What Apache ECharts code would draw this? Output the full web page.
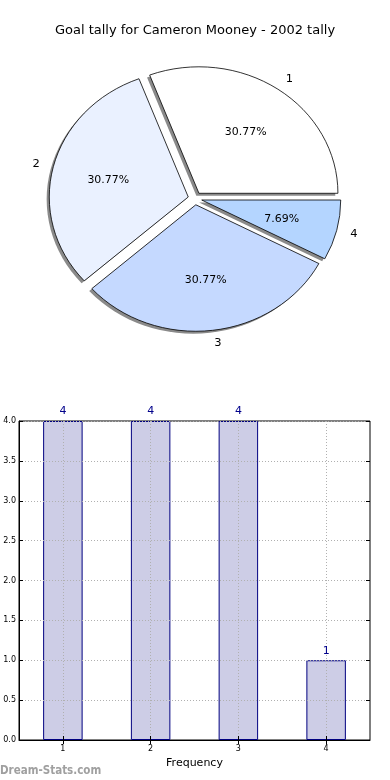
<!DOCTYPE html>
<html><head><meta charset="utf-8">
<script src="https://cdn.jsdelivr.net/npm/echarts@6/dist/echarts.min.js"></script>
<style>
html,body{margin:0;padding:0;background:#fff}
#wrap{position:relative;width:390px;height:780px}
#c{position:absolute;left:0;top:0;width:390px;height:780px}
#p{position:absolute;left:0;top:0;width:390px;height:400px;transform-origin:195px 198.5px;transform:scale(1.045,0.951)}
</style>
</head><body><div id="wrap"><div id="c"></div><div id="p"></div></div>
<script>
var titleText = 'Goal tally for Cameron Mooney - 2002 tally';
var categories = ['1', '2', '3', '4'];
var values = [4, 4, 4, 1];
var sliceColors = ['#ffffff', '#eaf1ff', '#c5d9ff', '#b4d5ff'];
var yTicks = [0, 0.5, 1, 1.5, 2, 2.5, 3, 3.5, 4];
var xName = 'Frequency';
var watermark = 'Dream-Stats.com';

var FONT = 'DejaVu Sans';
var R = 133;
var CX = 195, CY = 198.5;
function sliceData(withColor) {
  return categories.map(function (c, i) {
    var d = { name: c, value: values[i], selected: true };
    if (withColor) d.itemStyle = { color: sliceColors[i] };
    return d;
  });
}
var pieCommon = {
  type: 'pie', startAngle: 0, clockwise: false, selectedMode: 'multiple', selectedOffset: R * 0.05,
  avoidLabelOverlap: false, emphasis: { disabled: true }, silent: true
};

var pie = echarts.init(document.getElementById('p'), null, { renderer: 'svg' });
pie.setOption({
  animation: false,
  series: [
    Object.assign({}, pieCommon, {
      center: [CX - 2.5, CY + 2.5], radius: [0, R], z: 1,
      data: sliceData(false),
      itemStyle: { color: '#8a8a8a', borderWidth: 0 },
      label: { show: false }, labelLine: { show: false }
    }),
    Object.assign({}, pieCommon, {
      center: [CX, CY], radius: [0, R], z: 2,
      data: sliceData(true),
      itemStyle: { borderColor: '#000', borderWidth: 0.8 },
      label: { show: true, position: 'outside', distanceToLabelLine: 0, fontFamily: FONT, fontSize: 11, color: '#000', textBorderWidth: 0, formatter: '{b}' },
      labelLine: { show: false, length: R * 0.1, length2: 0 }
    }),
    Object.assign({}, pieCommon, {
      center: [CX, CY], radius: [0, R * 1.14], z: 3,
      data: sliceData(false),
      itemStyle: { color: 'rgba(0,0,0,0)', borderWidth: 0 },
      label: { show: true, position: 'inside', fontFamily: FONT, fontSize: 10.5, color: '#000', textBorderWidth: 0, textBorderColor: 'transparent',
        formatter: function (p) { return p.percent.toFixed(2) + '%'; } },
      labelLine: { show: false }
    })
  ]
});

var chart = echarts.init(document.getElementById('c'), null, { renderer: 'canvas' });
chart.setOption({
  animation: false,
  backgroundColor: '#ffffff',
  title: {
    text: titleText, left: 'center', top: 19,
    textStyle: { fontFamily: FONT, fontSize: 13, fontWeight: 'normal', color: '#000' }
  },
  graphic: [{
    type: 'text', left: 0, top: 765,
    style: { text: watermark, fill: '#a0a0a0', font: 'bold 11.5px "DejaVu Sans Condensed"' }
  }],
  grid: { left: 19, right: 20, top: 421, bottom: 40, show: true, borderColor: '#000', borderWidth: 1, backgroundColor: 'transparent' },
  xAxis: [{
    type: 'category', data: categories, boundaryGap: true, z: 5,
    name: xName, nameLocation: 'middle', nameGap: 18,
    nameTextStyle: { fontFamily: FONT, fontSize: 11, color: '#000' },
    axisLine: { show: true, lineStyle: { color: '#000', width: 1 } },
    axisTick: { show: true, alignWithLabel: true, inside: true, length: 4, lineStyle: { color: '#000' } },
    axisLabel: { fontFamily: FONT, fontSize: 8, color: '#000', margin: 5 },
    splitLine: { show: true, alignWithLabel: true, lineStyle: { color: '#b0b0b0', type: [1, 2], width: 1 } }
  }, {
    type: 'category', data: categories, boundaryGap: true, position: 'top', z: 5,
    axisLine: { show: false }, axisLabel: { show: false },
    axisTick: { show: true, alignWithLabel: true, inside: true, length: 4, lineStyle: { color: '#000' } },
    splitLine: { show: false }
  }],
  yAxis: [{
    type: 'value', min: yTicks[0], max: yTicks[yTicks.length - 1], interval: yTicks[1] - yTicks[0], z: 5,
    axisLine: { show: true, lineStyle: { color: '#000' } },
    axisTick: { show: true, inside: true, length: 4, lineStyle: { color: '#000' } },
    axisLabel: { fontFamily: FONT, fontSize: 8, color: '#000', margin: 3, formatter: function (v) { return v.toFixed(1); } },
    splitLine: { show: true, lineStyle: { color: '#b0b0b0', type: [1, 2], width: 1 } }
  }, {
    type: 'value', min: yTicks[0], max: yTicks[yTicks.length - 1], interval: yTicks[1] - yTicks[0], position: 'right', z: 5,
    axisLine: { show: false }, axisLabel: { show: false },
    axisTick: { show: true, inside: true, length: 4, lineStyle: { color: '#000' } },
    splitLine: { show: false }
  }],
  series: [{
    type: 'bar', xAxisIndex: 0, yAxisIndex: 0, data: values, barWidth: '45%', z: 2,
    itemStyle: { color: '#cdcde6', borderColor: '#000080', borderWidth: 1 },
    label: { show: false }
  }, {
    type: 'bar', xAxisIndex: 0, yAxisIndex: 0, data: values, barWidth: '45%', barGap: '-100%', z: 8,
    itemStyle: { color: 'rgba(0,0,0,0)', borderWidth: 0 },
    label: { show: true, position: 'top', distance: 4, fontFamily: FONT, fontSize: 11, color: '#00008b' }
  }]
});
</script></body></html>
